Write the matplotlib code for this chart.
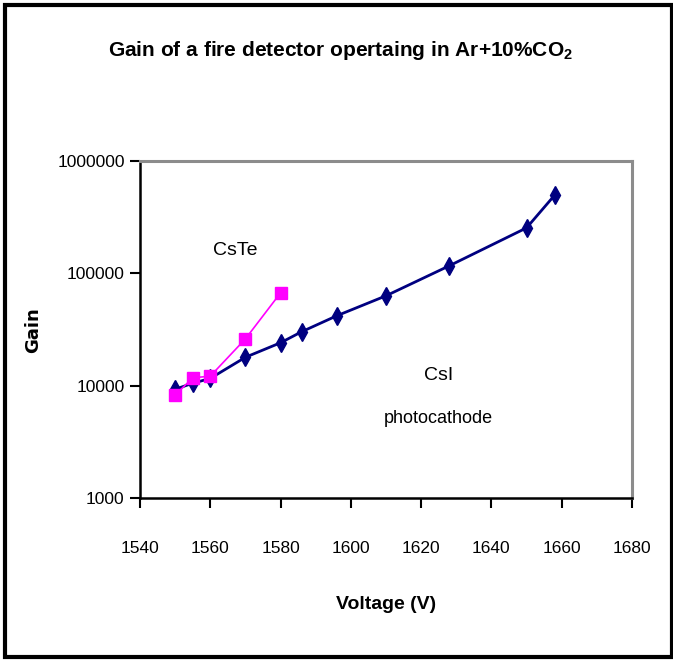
import matplotlib
matplotlib.use("Agg")
import matplotlib.pyplot as plt
import matplotlib.ticker as ticker
from matplotlib.patches import Rectangle

plt.rcParams['font.family'] = ['Liberation Sans', 'DejaVu Sans']

# CsI photocathode
xCsIVolt = [1550, 1555, 1560, 1570, 1580, 1586, 1596, 1610, 1628, 1650, 1658]
xCsIGain = [9300, 10500, 11600, 17900, 24100, 30200, 41900, 63100, 116700, 254000, 497000]

# CsTe
xCsTeVolt = [1550, 1555, 1560, 1570, 1580]
xCsTeGain = [8240, 11750, 12150, 26100, 67000]

xTicks = [1540, 1560, 1580, 1600, 1620, 1640, 1660, 1680]
yTicks = [1000, 10000, 100000, 1000000]

fig = plt.figure(figsize=(6.73, 6.60), dpi=100)
ax = fig.add_axes([140/673, 1-498/660, (632-140)/673, (498-161)/660])

ax.plot(xCsIVolt, xCsIGain, c='#000080', lw=2.0, marker='d', ms=9, mfc='#000080', mec='#000080', zorder=3)
ax.plot(xCsTeVolt, xCsTeGain, c='#FF00FF', lw=1.2, marker='s', ms=8, mfc='#FF00FF', mec='#FF00FF', zorder=4)

ax.set_yscale('log')
ax.set_xlim(1540, 1680)
ax.set_ylim(1000, 1000000)
ax.set_xticks(xTicks)
ax.set_yticks(yTicks)
ax.yaxis.set_major_formatter(ticker.FuncFormatter(lambda v, p: "%d" % v))
ax.yaxis.set_minor_locator(ticker.NullLocator())
ax.tick_params(axis='both', direction='out', length=7, width=1.5, labelsize=12.5, pad=4)
ax.tick_params(axis='x', pad=24)

for s in ['left', 'bottom']:
    ax.spines[s].set_color('black')
    ax.spines[s].set_linewidth(1.8)
for s in ['top', 'right']:
    ax.spines[s].set_color('#8c8c8c')
    ax.spines[s].set_linewidth(2.2)

ax.set_xlabel("Voltage (V)", fontsize=14, fontweight='bold', labelpad=29)
fig.text(33/673, 1-330/660, "Gain", rotation=90, fontsize=13, fontweight='bold',
         ha='center', va='center', family=['DejaVu Sans'])

fig.text(340/673, 1-50/660, r"Gain of a fire detector opertaing in Ar+10%CO$_\mathregular{2}$",
         fontsize=15, fontweight='bold', ha='center', va='center')

ax.text(1567, 1.6e5, "CsTe", fontsize=14, ha='center', va='center')
ax.text(1625, 1.22e4, "CsI", fontsize=14, ha='center', va='center')
ax.text(1625, 5.1e3, "photocathode", fontsize=13, ha='center', va='center')

fig.patches.append(Rectangle((5/673, 3/660), 667/673, 652/660, transform=fig.transFigure,
                             fill=False, ec='black', lw=3))

fig.savefig("out.png", dpi=100)
